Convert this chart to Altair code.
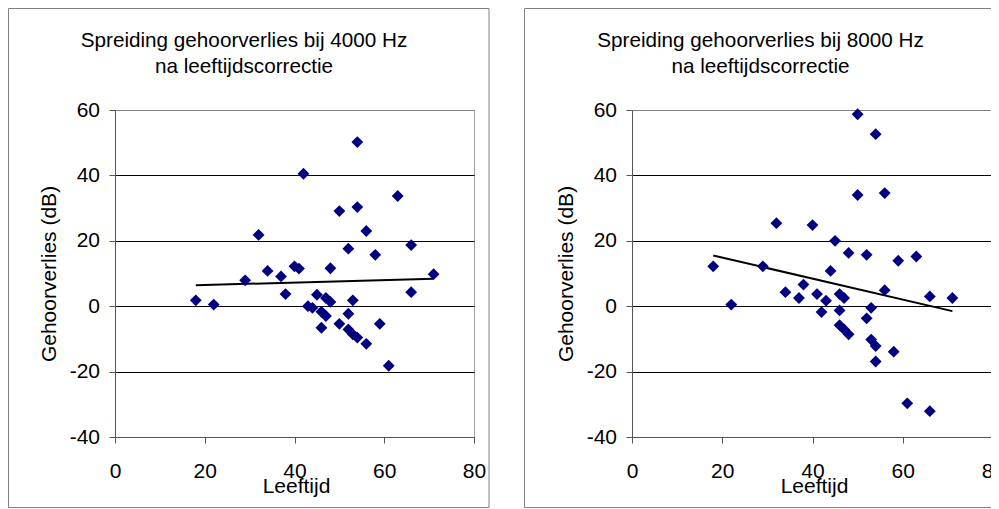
import altair as alt
import pandas as pd

# ---- data ----
ages_4k = [18, 22, 29, 32, 34, 37, 38, 40, 41, 42, 43, 44, 45, 46, 46, 47, 47, 48, 48,
           50, 50, 52, 52, 52, 53, 53, 54, 54, 54, 56, 56, 58, 59, 61, 63, 66, 66, 71]
loss_4k = [1.8, 0.5, 7.9, 21.8, 10.8, 9.1, 3.7, 12.2, 11.5, 40.5, 0.0, -0.5, 3.5, -1.7, -6.6, 2.5, -3.0, 11.6, 1.3,
           29.1, -5.4, 17.6, -2.3, -7.1, 1.8, -8.6, 50.2, 30.3, -9.6, 23.0, -11.5, 15.7, -5.4, -18.2, 33.7, 18.7, 4.3, 9.8]

ages_8k = [18, 22, 29, 32, 34, 37, 38, 40, 41, 42, 43, 44, 45, 46, 46, 46, 47, 47, 48, 48,
           50, 50, 52, 52, 53, 53, 54, 54, 54, 56, 56, 58, 59, 61, 63, 66, 66, 71]
loss_8k = [12.2, 0.5, 12.2, 25.4, 4.3, 2.5, 6.6, 24.8, 3.7, -1.8, 1.7, 10.8, 20.0, 3.7, -1.3, -5.8, 2.5, -7.1, 16.3, -8.6,
           58.7, 34.0, 15.7, -3.7, -0.5, -10.2, 52.6, -12.2, -16.9, 34.6, 4.9, -13.9, 13.9, -29.7, 15.2, 3.0, -32.1, 2.5]

trend_4k_x = [18, 71]
trend_4k_y = [6.4, 8.4]
trend_8k_x = [18, 71]
trend_8k_y = [15.5, -1.5]

title_4k = ["Spreiding gehoorverlies bij 4000 Hz", "na leeftijdscorrectie"]
title_8k = ["Spreiding gehoorverlies bij 8000 Hz", "na leeftijdscorrectie"]

x_ticks = [0, 20, 40, 60, 80]
y_ticks = [-40, -20, 0, 20, 40, 60]
x_title = "Leeftijd"
y_title = "Gehoorverlies (dB)"

FONT = "Liberation Sans"
PLOT_H = 327


def panel(ages, loss, tx, ty, title_lines, width, frame_x, frame_x2, title_cx):
    pts = pd.DataFrame({"Leeftijd": ages, "Gehoorverlies": loss})
    trend = pd.DataFrame({"Leeftijd": tx, "Gehoorverlies": ty})

    xenc = alt.X(
        "Leeftijd:Q",
        scale=alt.Scale(domain=[0, 80], nice=False, zero=False),
        axis=alt.Axis(values=x_ticks, title=x_title, grid=False, labelPadding=17,
                      titleY=55, titleX=width / 2 + 1.5, titleBaseline="alphabetic",
                      labelExpr="'' + datum.value"),
    )
    yenc = alt.Y(
        "Gehoorverlies:Q",
        scale=alt.Scale(domain=[-40, 60], nice=False, zero=False),
        axis=alt.Axis(values=y_ticks, title=y_title, grid=True,
                      gridColor=alt.condition("datum.value >= 60", alt.value("#808080"), alt.value("#000000")),
                      labelPadding=9.5, titleX=-60, titleY=PLOT_H / 2, titleBaseline="alphabetic",
                      titleAngle=270, labelExpr="'' + datum.value"),
    )

    one = pd.DataFrame({"f": [0]})
    frame = alt.Chart(one).mark_rect(fillOpacity=0, stroke="#808080", strokeWidth=1).encode(
        x=alt.value(frame_x), x2=alt.value(frame_x2), y=alt.value(-101.5), y2=alt.value(397.5)
    )
    t1 = alt.Chart(pd.DataFrame({"t": [title_lines[0]]})).mark_text(
        font=FONT, fontSize=20.7, baseline="alphabetic", align="center", color="black"
    ).encode(x=alt.value(title_cx), y=alt.value(-63.3), text="t:N")
    t2 = alt.Chart(pd.DataFrame({"t": [title_lines[1]]})).mark_text(
        font=FONT, fontSize=20.7, baseline="alphabetic", align="center", color="black"
    ).encode(x=alt.value(title_cx), y=alt.value(-37.3), text="t:N")

    line = alt.Chart(trend).mark_line(color="black", strokeWidth=2).encode(x=xenc, y=yenc)
    points = alt.Chart(pts).mark_point(
        shape="diamond", filled=True, size=140, color="#000080", opacity=1, strokeWidth=0
    ).encode(x=xenc, y=yenc)

    return alt.layer(frame, t1, t2, line, points).properties(width=width, height=PLOT_H)


left = panel(ages_4k, loss_4k, trend_4k_x, trend_4k_y, title_4k, 359, -106.5, 374, 129)
right = panel(ages_8k, loss_8k, trend_8k_x, trend_8k_y, title_8k, 361, -107.5, 374, 128.5)

chart = (
    alt.hconcat(left, right, spacing=33)
    .properties(
        autosize=alt.AutoSizeParams(type="none"),
        padding={"left": 107, "top": 102, "right": 876, "bottom": 399},
        background="white",
    )
    .configure_view(stroke="#a0a0a0", strokeWidth=1)
    .configure_axis(
        labelFont=FONT, titleFont=FONT, labelFontSize=21, titleFontSize=21,
        titleFontWeight="normal", labelColor="black", titleColor="black",
        domainColor="#555555", tickColor="#555555", tickSize=6,
        labelFlush=False, labelOverlap=False,
    )
)

chart.save("out.html", embed_options={"renderer": "svg", "actions": False})
